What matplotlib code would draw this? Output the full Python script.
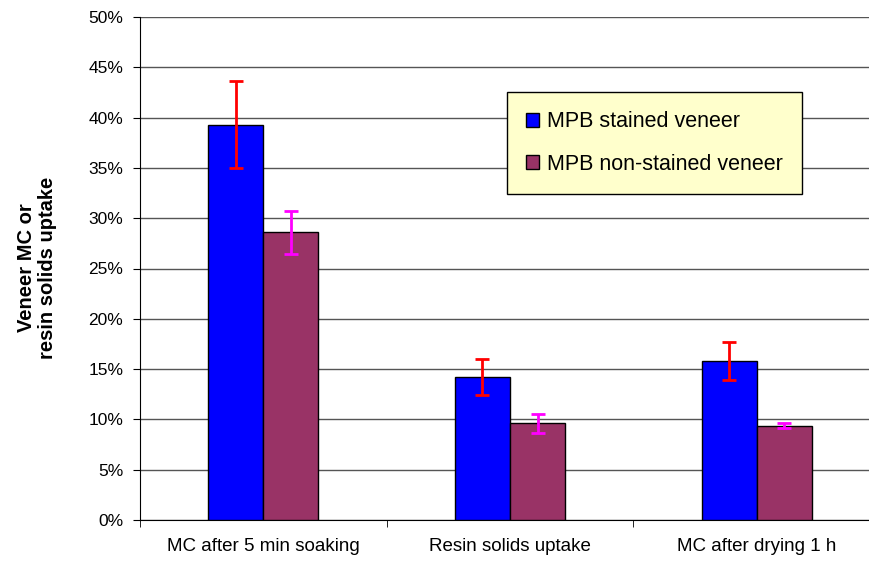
import matplotlib
matplotlib.use("Agg")
import matplotlib.pyplot as plt
import numpy as np
from matplotlib.ticker import PercentFormatter

plt.rcParams["font.family"] = ["Liberation Sans", "DejaVu Sans"]

categories = ["MC after 5 min soaking", "Resin solids uptake", "MC after drying 1 h"]
stained = [39.3, 14.2, 15.8]
stained_err = [4.3, 1.8, 1.9]
nonstained = [28.6, 9.6, 9.35]
nonstained_err = [2.15, 0.95, 0.25]

fig = plt.figure(figsize=(8.7, 5.63), dpi=100)
ax = fig.add_axes([140 / 870, 43 / 563, 740 / 870, 503 / 563])

x = np.arange(len(categories))
w = 0.223
ax.bar(x - w / 2, stained, w, color="#0000FF", edgecolor="black", linewidth=1,
       label="MPB stained veneer", zorder=3)
ax.bar(x + w / 2, nonstained, w, color="#993366", edgecolor="black", linewidth=1,
       label="MPB non-stained veneer", zorder=3)
ax.errorbar(x - w / 2, stained, yerr=stained_err, fmt="none", ecolor="#FF0000",
            elinewidth=2, capsize=5, capthick=2, zorder=4)
ax.errorbar(x + w / 2, nonstained, yerr=nonstained_err, fmt="none", ecolor="#FF00FF",
            elinewidth=2, capsize=5, capthick=2, zorder=4)

ax.set_ylim(0, 50)
ax.set_yticks(np.arange(0, 51, 5))
ax.yaxis.set_major_formatter(PercentFormatter(decimals=0))
ax.set_xlim(-0.5, 2.5)
ax.set_xticks(x)
ax.set_xticklabels(categories, fontsize=13.5)
ax.set_xticks([-0.5, 0.5, 1.5, 2.5], minor=True)
ax.tick_params(axis="x", which="major", length=0, pad=13)
ax.tick_params(axis="x", which="minor", length=5, direction="out")
ax.tick_params(axis="y", labelsize=12.5, length=5, direction="out", pad=7)
ax.yaxis.grid(True, color="#555555", linewidth=1, zorder=0)
ax.set_axisbelow(True)
for side in ["top", "right"]:
    ax.spines[side].set_visible(False)

# y label sits centred on the plot area, well left of the tick labels
fig.text(37 / 870, 1 - 268 / 563, "Veneer MC or\nresin solids uptake", fontsize=14.5,
         fontweight="bold", rotation=90, ha="center", va="center",
         multialignment="center", linespacing=1.1)

leg = ax.legend(loc="upper left", bbox_to_anchor=(367 / 740, 1 - 75 / 503),
                fontsize=15.5, frameon=True, fancybox=False, shadow=False,
                facecolor="#FFFFCC", edgecolor="black", framealpha=1,
                handlelength=0.6, handleheight=0.6, labelspacing=1.0,
                borderpad=0.9, handletextpad=0.35, borderaxespad=0)
leg.get_frame().set_linewidth(1)

fig.savefig("out.png", dpi=100)
